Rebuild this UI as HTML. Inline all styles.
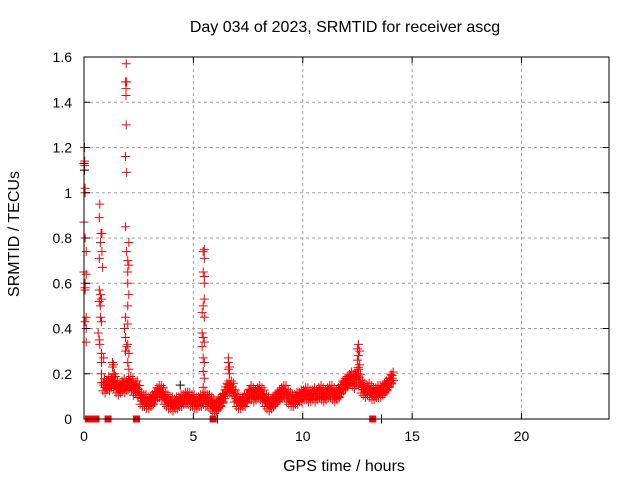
<!DOCTYPE html>
<html><head><meta charset="utf-8"><style>
body{margin:0;background:#fff}
svg{display:block;font-family:"Liberation Sans",sans-serif}
</style></head><body>
<svg id="chart" width="640" height="480">
<rect width="640" height="480" fill="#fff"/>
<g id="grid"></g>
<g id="marks"></g>
<rect x="84" y="57" width="525" height="362" fill="none" stroke="#000" stroke-width="1"/>
<g id="axes" font-size="14" fill="#000"></g>
<text x="345" y="32" text-anchor="middle" font-size="16">Day 034 of 2023, SRMTID for receiver ascg</text>
<text x="344" y="471" text-anchor="middle" font-size="16">GPS time / hours</text>
<text transform="translate(19,234) rotate(-90)" text-anchor="middle" font-size="16">SRMTID / TECUs</text>
</svg>
<script>
const xTicks=[0,5,10,15,20];
const yTicks=[0,0.2,0.4,0.6,0.8,1,1.2,1.4,1.6];
const yTickLabels=["0","0.2","0.4","0.6","0.8","1","1.2","1.4","1.6"];
const baseStart=0.9;
const baseStep=0.1;
const baseValues=[0.15,0.14,0.16,0.15,0.17,0.16,0.14,0.13,0.14,0.15,0.14,
0.15,0.16,0.15,0.13,0.14,0.12,0.09,0.08,0.08,0.07,
0.07,0.08,0.09,0.11,0.12,0.12,0.11,0.09,0.08,0.07,
0.07,0.06,0.07,0.07,0.08,0.08,0.09,0.09,0.09,0.08,
0.08,0.07,0.07,0.08,0.08,0.09,0.08,0.08,0.07,0.06,
0.05,0.06,0.07,0.08,0.1,0.13,0.14,0.14,0.13,0.1,
0.08,0.07,0.07,0.08,0.08,0.1,0.12,0.11,0.1,0.11,
0.12,0.11,0.1,0.08,0.07,0.06,0.07,0.08,0.09,0.1,
0.11,0.12,0.12,0.1,0.09,0.08,0.08,0.09,0.09,0.1,
0.1,0.11,0.11,0.1,0.1,0.11,0.1,0.11,0.12,0.11,
0.1,0.11,0.12,0.12,0.11,0.1,0.11,0.12,0.14,0.15,
0.16,0.17,0.18,0.17,0.16,0.2,0.17,0.14,0.13,0.12,
0.13,0.12,0.11,0.11,0.12,0.12,0.12,0.13,0.14,0.15,
0.17,0.18];
const spikeTimes=[0.02,0.03,0.03,0.05,0.05,0,0.05,0.1,0,0.1,0.05,0.05,0.1,0.05,0.1,0.1,0.05,
0.72,0.7,0.78,0.82,0.75,0.82,0.7,0.85,0.7,0.75,0.8,0.7,0.75,0.75,0.8,0.7,0.8,0.9,0.8,0.8,0.8,0.65,0.72,
1.93,1.9,1.95,1.92,1.92,1.93,1.9,1.95,1.9,2.05,1.95,2,2.05,2,2,2.05,2,1.9,2,1.85,1.9,2,1.95,2.05,2,2.05,1.9,
1.3,1.35,1.3,1.4,
5.5,5.45,5.5,5.45,5.5,5.5,5.5,5.45,5.4,5.5,5.4,5.45,5.5,5.4,5.45,5.5,5.45,5.5,5.45,
6.6,6.6,6.65,6.6,6.65,
12.55,12.5,12.6,12.55,12.5,12.6,12.55,12.4,12.3];
const spikeValues=[1.2,1.14,1.12,1.02,1.0,0.87,0.8,0.74,0.65,0.64,0.6,0.57,0.45,0.43,0.4,0.34,0.58,
0.95,0.89,0.82,0.82,0.78,0.74,0.71,0.67,0.57,0.55,0.53,0.52,0.5,0.45,0.43,0.35,0.29,0.27,0.25,0.2,0.16,0.38,0.33,
1.57,1.49,1.49,1.46,1.43,1.3,1.16,1.09,0.85,0.78,0.74,0.7,0.68,0.65,0.6,0.55,0.5,0.45,0.42,0.4,0.36,0.33,0.32,0.29,0.25,0.22,0.3,
0.25,0.24,0.23,0.2,
0.75,0.74,0.71,0.65,0.63,0.6,0.53,0.5,0.47,0.45,0.38,0.36,0.34,0.32,0.27,0.25,0.21,0.18,0.14,
0.27,0.25,0.23,0.22,0.2,
0.33,0.31,0.3,0.28,0.26,0.24,0.22,0.2,0.18];
const zeroTimes=[0.2,0.45,0.55,1.1,2.4,5.9,13.2];
const blackTimes=[0,0.02,4.4,6.1,13.6];
const blackValues=[1.13,1.1,0.15,0,0];

const NS="http://www.w3.org/2000/svg";
const xs=h=>84+h*525/24;
const ys=v=>419-v*362/1.6;
const grid=document.getElementById('grid'),axes=document.getElementById('axes'),marks=document.getElementById('marks');
function mk(tag,attrs,parent){const e=document.createElementNS(NS,tag);for(const k in attrs)e.setAttribute(k,attrs[k]);parent.appendChild(e);return e;}
xTicks.forEach(t=>{
 const x=xs(t);
 if(t>0){const g=mk('line',{x1:x,x2:x,y1:57,y2:419,stroke:'#a0a0a0','stroke-dasharray':'3,3'},grid);
 
 }
 const tk=mk('path',{d:`M${x} 419v-6M${x} 57v6`,stroke:'#000'},axes);
 
 
 const l=mk('text',{x:x,y:441,'text-anchor':'middle'},axes);l.textContent=t;
 
 
});
yTicks.forEach((t,i)=>{
 const y=ys(t);
 if(i>0&&i<yTicks.length-1){const g=mk('line',{x1:84,x2:609,y1:y,y2:y,stroke:'#a0a0a0','stroke-dasharray':'3,3'},grid);
 
 }
 const tk=mk('path',{d:`M84 ${y}h6M609 ${y}h-6`,stroke:'#000'},axes);
 
 
 const l=mk('text',{x:72,y:y+5,'text-anchor':'end'},axes);l.textContent=yTickLabels[i];
 
 
});
function plus(h,v,col,name){
 const x=xs(h),y=ys(v);
 const p=mk('path',{d:`M${x-4.5} ${y}h9M${x} ${y-4.5}v9`,stroke:col,'stroke-width':1},marks);
 
 
}
blackTimes.forEach((t,i)=>plus(t,blackValues[i],'#000','black-point'));
baseValues.forEach((v,i)=>{
 const t=baseStart+i*baseStep;
 plus(t,v,'#f00','baseline-point');
 plus(t+0.035,v+0.028,'#f00','baseline-point');
 plus(t-0.035,v-0.025,'#f00','baseline-point');
 plus(t+0.05,v-0.01,'#f00','baseline-point');
 plus(t-0.02,v+0.012,'#f00','baseline-point');
});
spikeTimes.forEach((t,i)=>plus(t,spikeValues[i],'#f00','spike-point'));
zeroTimes.forEach(t=>{
 const r=mk('rect',{x:xs(t)-3.5,y:415.5,width:7,height:7,fill:'#f00'},marks);
 
 
});
</script>
</body></html>
